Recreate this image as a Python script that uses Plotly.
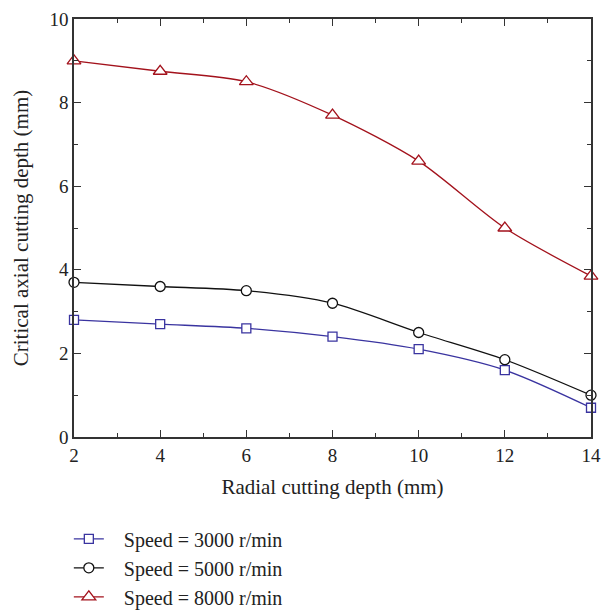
import plotly.graph_objects as go

radial_depth = [2, 4, 6, 8, 10, 12, 14]
speed_3000 = [2.8, 2.7, 2.6, 2.4, 2.1, 1.6, 0.7]
speed_5000 = [3.7, 3.6, 3.5, 3.2, 2.5, 1.85, 1.0]
speed_8000 = [9.0, 8.75, 8.5, 7.7, 6.6, 5.0, 3.85]
series_names = ["Speed = 3000 r/min", "Speed = 5000 r/min", "Speed = 8000 r/min"]

FONT = "Liberation Serif"
colors = ["#3a34a0", "#111111", "#a3121c"]
symbols = ["square", "circle", "triangle-up"]
sizes = [9, 10, 12]

fig = go.Figure()
for vals, name, c, s, sz in zip([speed_3000, speed_5000, speed_8000], series_names, colors, symbols, sizes):
    fig.add_trace(go.Scatter(
        x=radial_depth, y=vals, name="\u00a0\u00a0\u00a0" + name, mode="lines+markers",
        line=dict(color=c, width=1.3, shape="spline", smoothing=0.8),
        marker=dict(symbol=s, size=sz, color="white", line=dict(color=c, width=1.3)),
        cliponaxis=False,
    ))

axis_common = dict(
    showline=True, linecolor="#333333", linewidth=1.5, mirror="ticks",
    ticks="inside", ticklen=7, tickwidth=1.3, tickcolor="#333333",
    showgrid=False, zeroline=False, automargin=False,
    tickfont=dict(family=FONT, size=19, color="#222222"),
    minor=dict(ticks="inside", ticklen=4, tickwidth=1.2, tickcolor="#333333", dtick=1),
)

fig.update_xaxes(range=[2, 14], dtick=2, tick0=2,
                 title=dict(text="Radial cutting depth (mm)", font=dict(family=FONT, size=21, color="#222222"), standoff=15),
                 **axis_common)
fig.update_yaxes(range=[0, 10], dtick=2, tick0=0,
                 title=dict(text="Critical axial cutting depth (mm)", font=dict(family=FONT, size=21, color="#222222"), standoff=15),
                 **axis_common)

fig.update_layout(
    width=601, height=612,
    margin=dict(l=74, r=10, t=19, b=175, autoexpand=False),
    plot_bgcolor="white", paper_bgcolor="white",
    font=dict(family=FONT, size=19, color="#222222"),
    legend=dict(x=-0.01, y=-0.197, xanchor="left", yanchor="top",
                font=dict(family=FONT, size=20, color="#222222"),
                tracegroupgap=0, bgcolor="rgba(0,0,0,0)"),
)

fig.write_html("out.html")
